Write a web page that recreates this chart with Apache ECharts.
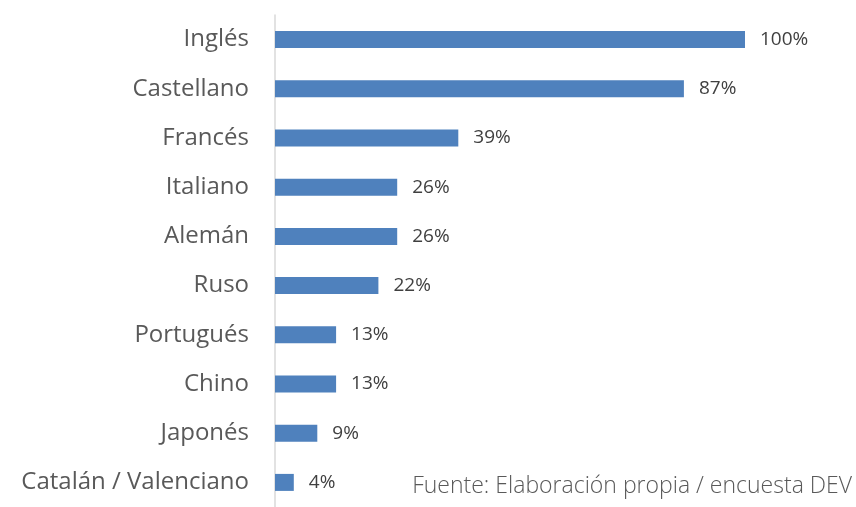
<!DOCTYPE html>
<html>
<head>
<meta charset="utf-8">
<script src="https://cdn.jsdelivr.net/npm/echarts@6/dist/echarts.min.js"></script>
<style>
    html, body { margin: 0; padding: 0; background: #fff; }
    #chart { width: 856px; height: 507px; }
</style>
</head>
<body>
<div id="chart"></div>
<script>
// idiomas, de arriba a abajo
var idiomas = ['Inglés', 'Castellano', 'Francés', 'Italiano', 'Alemán', 'Ruso', 'Portugués', 'Chino', 'Japonés', 'Catalán / Valenciano']
var porcentajes = [100, 87, 39, 26, 26, 22, 13, 13, 9, 4]
var fuente = 'Fuente: Elaboración propia / encuesta DEV'

var chart = echarts.init(document.getElementById('chart'))
chart.setOption({
    animation: false,
    grid: {
        left: 275,
        right: 111,
        top: 15,
        height: 497
    },
    xAxis: {
        type: 'value',
        min: 0,
        max: 100,
        show: false
    },
    yAxis: {
        type: 'category',
        inverse: true,
        data: idiomas,
        axisLine: { show: true, lineStyle: { color: '#d9d9d9', width: 1.5 } },
        axisTick: { show: false },
        axisLabel: {
            margin: 26,
            color: '#595959',
            fontFamily: 'Open Sans',
            fontSize: 24
        }
    },
    series: [
        {
            type: 'bar',
            data: porcentajes,
            barWidth: 17,
            itemStyle: { color: '#4f81bd' },
            label: {
                show: true,
                position: 'right',
                distance: 15,
                formatter: '{c}%',
                color: '#404040',
                fontFamily: 'Open Sans',
                fontSize: 19
            }
        }
    ],
    graphic: [
        {
            type: 'text',
            x: 852,
            y: 486,
            style: {
                text: fuente,
                align: 'right',
                verticalAlign: 'middle',
                fill: '#595959',
                fontFamily: 'Open Sans',
                fontWeight: 300,
                fontSize: 23
            }
        }
    ]
})
</script>
</body>
</html>
